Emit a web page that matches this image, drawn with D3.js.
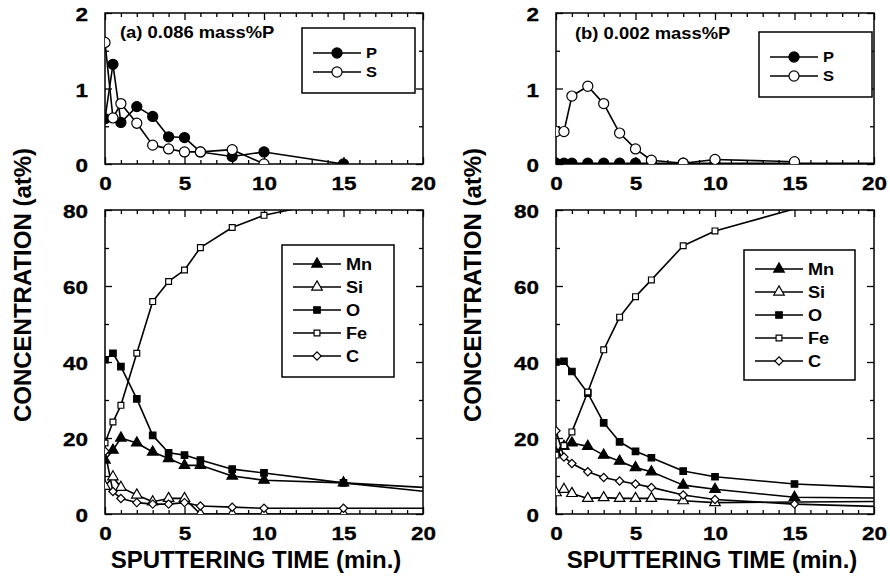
<!DOCTYPE html>
<html>
<head>
<meta charset="utf-8">
<script src="https://cdn.jsdelivr.net/npm/d3@7"></script>
<style>
  html, body { margin: 0; padding: 0; background: #fff; }
  svg { display: block; font-family: 'Liberation Sans', Arial, Helvetica, sans-serif; font-weight: bold; }
</style>
</head>
<body>
<svg id="chart" width="890" height="583"></svg>
<script>
// sputtering time (min.) shared by every series; 20 is only where the lines leave the frame
const TIME = [0, 0.5, 1, 2, 3, 4, 5, 6, 8, 10, 15, 20];
const X_TICKS = [0, 5, 10, 15, 20];
const Y_TICKS_TOP = [0, 1, 2];
const Y_TICKS_BOTTOM = [0, 20, 40, 60, 80];
const TOP_SERIES = ['P', 'S'];
const BOTTOM_SERIES = ['Mn', 'Si', 'O', 'Fe', 'C'];
const PANEL_TITLES = ['(a) 0.086 mass%P', '(b) 0.002 mass%P'];
const X_LABEL = 'SPUTTERING TIME (min.)';
const Y_LABEL = 'CONCENTRATION (at%)';

// (a) 0.086 mass%P  (at%)
const P_a  = [0.60, 1.32, 0.55, 0.76, 0.63, 0.36, 0.35, 0.16, 0.10, 0.16, 0.00, null];
const S_a  = [1.61, 0.61, 0.80, 0.54, 0.25, 0.20, 0.16, 0.16, 0.19, 0.00, null, null];
const Mn_a = [14.2, 16.8, 20.0, 18.7, 16.3, 14.6, 12.8, 12.8, 10.0, 8.9, 8.2, 6.0];
const Si_a = [7.3, 9.8, 7.0, 5.0, 3.2, 4.1, 4.1, 0.0, 0.0, 0.0, 0.0, null];
const O_a  = [40.6, 42.3, 38.8, 30.3, 20.7, 16.1, 15.5, 14.2, 11.8, 10.8, 8.2, 7.0];
const Fe_a = [18.7, 24.2, 28.6, 42.3, 55.9, 61.2, 64.2, 70.1, 75.4, 78.6, 83.0, 86.0];
const C_a  = [16.5, 5.9, 4.1, 3.0, 2.6, 2.6, 3.0, 2.1, 1.8, 1.5, 1.5, 1.5];

// (b) 0.002 mass%P  (at%)
const P_b  = [0.01, 0.01, 0.01, 0.01, 0.01, 0.01, 0.01, 0.01, 0.01, 0.01, 0.01, 0.01];
const S_b  = [0.43, 0.43, 0.90, 1.03, 0.80, 0.41, 0.20, 0.05, 0.01, 0.06, 0.03, null];
const Mn_b = [16.1, 17.8, 18.7, 17.8, 15.5, 13.9, 12.2, 11.1, 7.6, 6.5, 4.4, 4.2];
const Si_b = [5.6, 6.5, 5.4, 4.1, 4.3, 4.1, 4.1, 4.1, 3.5, 3.0, null, 3.3];
const O_b  = [40.0, 40.2, 37.5, 31.8, 24.0, 19.0, 16.5, 14.8, 11.3, 9.8, 7.9, 7.0];
const Fe_b = [15.5, 18.0, 21.6, 32.1, 43.2, 51.8, 57.2, 61.6, 70.6, 74.5, 80.3, 85.0];
const C_b  = [21.9, 15.0, 13.3, 11.1, 9.6, 8.7, 7.9, 7.0, 5.0, 3.8, 2.6, 2.0];

(function () {
  'use strict';

  const MARK = {
    P:  { type: d3.symbolCircle,   size: 80, fill: '#000' },
    S:  { type: d3.symbolCircle,   size: 80, fill: '#fff' },
    Mn: { type: d3.symbolTriangle, size: 48, fill: '#000' },
    Si: { type: d3.symbolTriangle, size: 48, fill: '#fff' },
    O:  { type: d3.symbolSquare,   size: 42, fill: '#000' },
    Fe: { type: d3.symbolSquare,   size: 34, fill: '#fff' },
    C:  { type: d3.symbolSquare,   size: 34, fill: '#fff', rot: 45 },
  };

  const PANELS = [
    { x0: 105, title: { x: 120, y: 38 },
      top: { P: P_a, S: S_a },
      bottom: { Mn: Mn_a, Si: Si_a, O: O_a, Fe: Fe_a, C: C_a },
      legTop: { x: 302, y: 28, w: 113, h: 65 },
      legBot: { x: 282, y: 245, w: 112, h: 132 },
      yTitleX: 22, xTitleX: 256 },
    { x0: 556, title: { x: 575, y: 39 },
      top: { P: P_b, S: S_b },
      bottom: { Mn: Mn_b, Si: Si_b, O: O_b, Fe: Fe_b, C: C_b },
      legTop: { x: 759, y: 32, w: 113, h: 65 },
      legBot: { x: 744, y: 250, w: 111, h: 130 },
      yTitleX: 472, xTitleX: 712 },
  ];
  const PW = 318;
  const TOP_Y = [164, 13], BOT_Y = [514, 210];
  const SX = 1.25; // tick labels are set wide in the original

  const svg = d3.select('#chart');
  let clipN = 0;

  function symPath(name) {
    return d3.symbol().type(MARK[name].type).size(MARK[name].size)();
  }

  function plot(px, yRange, yDomain, yMajor, yMinor, series, names) {
    const x = d3.scaleLinear().domain([0, 20]).range([px, px + PW]);
    const y = d3.scaleLinear().domain(yDomain).range(yRange);
    const g = svg.append('g');

    const xMinor = d3.range(0, 21).filter(v => v % 5 !== 0);
    const styleAxis = sel => {
      sel.select('.domain').remove();
      sel.selectAll('line').attr('stroke', '#000').attr('stroke-width', 1.3);
    };
    const styleLabels = sel => sel
      .style('font-size', '18px').style('font-family', null)
      .attr('fill', '#000').attr('stroke', '#000').attr('stroke-width', 0.3);

    // bottom (labelled) + top, inward ticks
    const gb = g.append('g').attr('transform', `translate(0,${yRange[0]})`)
      .call(d3.axisBottom(x).tickValues(X_TICKS).tickSizeInner(-7).tickSizeOuter(0).tickFormat(d3.format('d')));
    gb.call(styleAxis);
    gb.selectAll('text').attr('y', 0).attr('dy', null)
      .attr('transform', `translate(0,26) scale(${SX},1)`)
      .call(styleLabels);
    g.append('g').attr('transform', `translate(0,${yRange[0]})`)
      .call(d3.axisBottom(x).tickValues(xMinor).tickSizeInner(-4).tickSizeOuter(0).tickFormat(''))
      .call(styleAxis);
    g.append('g').attr('transform', `translate(0,${yRange[1]})`)
      .call(d3.axisTop(x).tickValues(X_TICKS).tickSizeInner(-7).tickSizeOuter(0).tickFormat(''))
      .call(styleAxis);
    g.append('g').attr('transform', `translate(0,${yRange[1]})`)
      .call(d3.axisTop(x).tickValues(xMinor).tickSizeInner(-4).tickSizeOuter(0).tickFormat(''))
      .call(styleAxis);

    // left (labelled) + right
    const gl = g.append('g').attr('transform', `translate(${px},0)`)
      .call(d3.axisLeft(y).tickValues(yMajor).tickSizeInner(-7).tickSizeOuter(0).tickFormat(d3.format('d')));
    gl.call(styleAxis);
    gl.selectAll('text').attr('x', -17 / SX).attr('dy', '0.42em')
      .attr('transform', `scale(${SX},1)`)
      .call(styleLabels);
    g.append('g').attr('transform', `translate(${px},0)`)
      .call(d3.axisLeft(y).tickValues(yMinor).tickSizeInner(-4).tickSizeOuter(0).tickFormat(''))
      .call(styleAxis);
    g.append('g').attr('transform', `translate(${px + PW},0)`)
      .call(d3.axisRight(y).tickValues(yMajor).tickSizeInner(-7).tickSizeOuter(0).tickFormat(''))
      .call(styleAxis);
    g.append('g').attr('transform', `translate(${px + PW},0)`)
      .call(d3.axisRight(y).tickValues(yMinor).tickSizeInner(-4).tickSizeOuter(0).tickFormat(''))
      .call(styleAxis);

    g.append('rect').attr('x', px).attr('y', yRange[1]).attr('width', PW).attr('height', yRange[0] - yRange[1])
      .attr('fill', 'none').attr('stroke', '#000').attr('stroke-width', 1.5);

    // series, clipped to the frame
    const id = 'clip' + (clipN++);
    svg.append('clipPath').attr('id', id).append('rect')
      .attr('x', px).attr('y', yRange[1]).attr('width', PW).attr('height', yRange[0] - yRange[1]);
    const area = g.append('g').attr('clip-path', `url(#${id})`);
    const line = d3.line().x(d => x(d[0])).y(d => y(d[1]));
    names.forEach(n => {
      const pts = TIME.map((t, i) => [t, series[n][i]]).filter(d => d[1] != null);
      area.append('path').datum(pts).attr('d', line)
        .attr('fill', 'none').attr('stroke', '#000').attr('stroke-width', 1.6).attr('stroke-linejoin', 'round');
    });
    names.forEach(n => {
      const pts = TIME.map((t, i) => [t, series[n][i]])
        .filter(d => d[1] != null && d[0] < 20 && d[1] <= yDomain[1]);
      const m = MARK[n];
      area.selectAll(null).data(pts).enter().append('path')
        .attr('d', symPath(n))
        .attr('transform', d => `translate(${x(d[0])},${y(d[1])})` + (m.rot ? ` rotate(${m.rot})` : ''))
        .attr('fill', m.fill).attr('stroke', '#000').attr('stroke-width', 1.2);
    });
  }

  function legend(box, names, firstRow, rowGap, fontSize) {
    const g = svg.append('g');
    g.append('rect').attr('x', box.x).attr('y', box.y).attr('width', box.w).attr('height', box.h)
      .attr('fill', '#fff').attr('stroke', '#000').attr('stroke-width', 1.5);
    names.forEach((n, i) => {
      const cy = box.y + firstRow + i * rowGap;
      g.append('line').attr('x1', box.x + 11).attr('x2', box.x + 59).attr('y1', cy).attr('y2', cy)
        .attr('stroke', '#000').attr('stroke-width', 1.6);
      const m = MARK[n];
      g.append('path').attr('d', symPath(n))
        .attr('transform', `translate(${box.x + 35},${cy})` + (m.rot ? ` rotate(${m.rot})` : ''))
        .attr('fill', m.fill).attr('stroke', '#000').attr('stroke-width', 1.2);
      g.append('text').attr('transform', `translate(${box.x + 64},${cy + fontSize * 0.36}) scale(1.1,1)`)
        .style('font-size', fontSize + 'px').text(n);
    });
  }

  PANELS.forEach((p, k) => {
    plot(p.x0, TOP_Y, [0, 2], Y_TICKS_TOP, [0.5, 1.5], p.top, TOP_SERIES);
    plot(p.x0, BOT_Y, [0, 80], Y_TICKS_BOTTOM, [10, 30, 50, 70], p.bottom, BOTTOM_SERIES);

    svg.append('text').attr('transform', `translate(${p.title.x},${p.title.y}) scale(1.15,1)`)
      .style('font-size', '16px').text(PANEL_TITLES[k]);
    legend(p.legTop, TOP_SERIES, 25, 19, 15);
    legend(p.legBot, BOTTOM_SERIES, 19, 23, 16.5);

    svg.append('text').attr('x', p.xTitleX).attr('y', 568).attr('text-anchor', 'middle')
      .style('font-size', '24px').text(X_LABEL);
    svg.append('text').attr('transform', `translate(${p.yTitleX},285) rotate(-90)`)
      .attr('text-anchor', 'middle').attr('dy', '0.36em')
      .style('font-size', '24px').text(Y_LABEL);
  });
})();
</script>
</body>
</html>
